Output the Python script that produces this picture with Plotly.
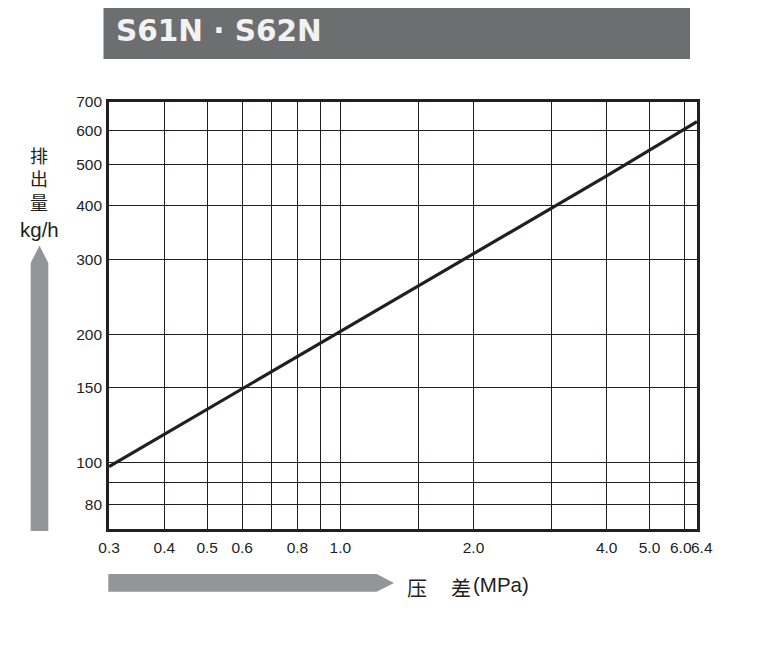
import math
import plotly.graph_objects as go

# ---- data ----
pressure_mpa = [0.3, 0.6, 1.0, 2.0, 4.0, 6.4]
discharge_kgh = [98, 149, 203, 310, 470, 630]

x_tick_vals = [0.3, 0.4, 0.5, 0.6, 0.7, 0.8, 0.9, 1.0, 1.5, 2.0, 3.0, 4.0, 5.0, 6.0, 6.4]
x_tick_text = ["0.3", "0.4", "0.5", "0.6", "", "0.8", "", "1.0", "", "2.0", "", "4.0", "5.0", "", ""]
x_edge_labels = [(6.0, "6.0"), (6.4, "6.4")]  # drawn tight together as in the reference
y_tick_vals = [80, 90, 100, 150, 200, 300, 400, 500, 600, 700]
y_tick_text = ["80", "", "100", "150", "200", "300", "400", "500", "600", "700"]

title_text = "S61N · S62N"

# ---- layout geometry (pixels in the reference; page body has an 8px margin) ----
OFF = 8
W, H = 757 - OFF, 650 - OFF
L, R, T, B = 109, 697, 102, 529
pw, ph = R - L, B - T


def px(x):
    return (x - L) / pw


def py(y):
    return (B - y) / ph


fig = go.Figure()
fig.add_trace(go.Scatter(
    x=pressure_mpa, y=discharge_kgh, mode="lines",
    line=dict(color="#231f20", width=3.2), hoverinfo="skip", showlegend=False,
))

tick_font = dict(family="Liberation Sans, Arial, sans-serif", size=15.5, color="#231f20")

fig.update_xaxes(
    type="log", range=[math.log10(0.3) - 1e-4, math.log10(6.4) + 1e-4],
    tickmode="array", tickvals=x_tick_vals, ticktext=x_tick_text, tickangle=0,
    showgrid=True, gridcolor="#231f20", gridwidth=1.3,
    showline=True, linecolor="#231f20", linewidth=2.6, mirror=True,
    ticks="", tickfont=tick_font, ticklabelstandoff=3, zeroline=False,
)
fig.update_yaxes(
    type="log", range=[math.log10(70), math.log10(700) + 1e-4],
    tickmode="array", tickvals=y_tick_vals, ticktext=y_tick_text,
    showgrid=True, gridcolor="#231f20", gridwidth=1.3,
    showline=True, linecolor="#231f20", linewidth=2.6, mirror=True,
    ticks="", tickfont=tick_font, ticklabelstandoff=1, zeroline=False,
)

shapes = []
# title box
shapes.append(dict(type="rect", xref="paper", yref="paper",
                   x0=px(103.5), x1=px(690), y0=py(59), y1=py(6.7),
                   fillcolor="#6d6e70", line=dict(width=0), layer="above"))
# vertical arrow
va = [(30.7, 531), (48.3, 531), (48.3, 263), (39.5, 245.5), (30.7, 263)]
shapes.append(dict(type="path", xref="paper", yref="paper",
                   path="M " + " L ".join(f"{px(a):.5f},{py(b):.5f}" for a, b in va) + " Z",
                   fillcolor="#939598", line=dict(width=0)))
# horizontal arrow
ha = [(108.3, 574), (376.7, 574), (394, 583), (376.7, 591.7), (108.3, 591.7)]
shapes.append(dict(type="path", xref="paper", yref="paper",
                   path="M " + " L ".join(f"{px(a):.5f},{py(b):.5f}" for a, b in ha) + " Z",
                   fillcolor="#939598", line=dict(width=0)))

cjk = "Noto Sans CJK SC"
annots = []
for (v, txt), shift in zip(x_edge_labels, [-4, 5]):
    annots.append(dict(x=math.log10(v), y=py(547), xref="x", yref="paper", text=txt,
                       xshift=shift, showarrow=False, xanchor="center", yanchor="middle",
                       font=tick_font))
annots.append(dict(x=px(114), y=py(31), xref="paper", yref="paper", text="<b>" + title_text + "</b>",
                   showarrow=False, xanchor="left", yanchor="middle",
                   font=dict(family="DejaVu Sans, sans-serif", size=29.5, color="#f2f2f2")))
annots.append(dict(x=px(39), y=py(216), xref="paper", yref="paper", text="排<br>出<br>量",
                   showarrow=False, xanchor="center", yanchor="bottom", borderpad=0,
                   font=dict(family=cjk, size=18, color="#231f20")))
annots.append(dict(x=px(39), y=py(216.5), xref="paper", yref="paper", text="kg/h",
                   showarrow=False, xanchor="center", yanchor="top", borderpad=0,
                   font=dict(family="Liberation Sans, Arial, sans-serif", size=20.5, color="#231f20")))
annots.append(dict(x=px(417), y=py(587), xref="paper", yref="paper", text="压",
                   showarrow=False, xanchor="center", yanchor="middle",
                   font=dict(family=cjk, size=20, color="#231f20")))
annots.append(dict(x=px(461), y=py(587), xref="paper", yref="paper", text="差",
                   showarrow=False, xanchor="center", yanchor="middle",
                   font=dict(family=cjk, size=20, color="#231f20")))
annots.append(dict(x=px(471), y=py(584.5), xref="paper", yref="paper", text="(MPa)",
                   showarrow=False, xanchor="left", yanchor="middle",
                   font=dict(family="Liberation Sans, Arial, sans-serif", size=20.5, color="#231f20")))

fig.update_layout(
    width=W, height=H, margin=dict(l=L - OFF, r=(W + OFF) - R, t=T - OFF, b=(H + OFF) - B, pad=0),
    plot_bgcolor="white", paper_bgcolor="white",
    shapes=shapes, annotations=annots, showlegend=False,
)

fig.write_html("out.html")
